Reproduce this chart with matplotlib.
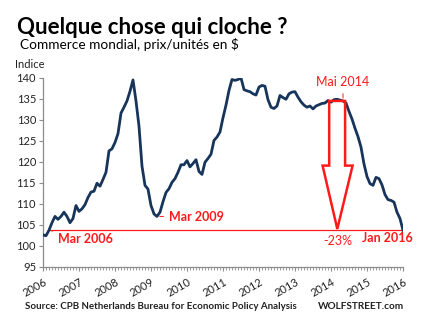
import matplotlib.pyplot as plt
from matplotlib.patches import Polygon
from matplotlib.ticker import MultipleLocator

plt.rcParams['font.family'] = ['Lato', 'DejaVu Sans']

# monthly index, Jan 2006 .. Jan 2016
start_year = 2006
index_values = [
    102.6, 102.4, 103.7, 105.5, 107.0, 106.3, 107.0, 108.0, 107.0, 105.5, 106.5, 109.6,
    108.2, 108.8, 109.8, 111.5, 112.8, 113.0, 114.9, 114.2, 115.8, 117.5, 122.6, 123.1,
    124.6, 126.7, 131.6, 133.0, 134.5, 136.8, 139.5, 134.5, 128.5, 119.0, 114.4, 113.5,
    109.6, 107.6, 107.0, 108.0, 110.5, 112.7, 113.6, 115.1, 116.0, 117.5, 119.3, 119.3,
    120.3, 118.8, 119.6, 120.5, 117.7, 117.0, 119.9, 120.8, 121.8, 125.1, 125.9, 127.1,
    130.5, 133.5, 137.0, 139.6, 139.4, 139.6, 140.0, 137.2, 136.9, 136.7, 136.2, 135.9,
    137.8, 138.2, 138.0, 134.8, 133.0, 132.7, 133.3, 135.8, 135.3, 134.9, 136.2, 136.6,
    136.7, 135.4, 134.3, 133.5, 133.0, 133.3, 132.6, 133.3, 133.6, 133.9, 134.0, 134.6,
    134.2, 134.8, 134.9, 134.7, 134.5, 134.0, 132.0, 130.2, 128.0, 126.0, 123.5, 119.5,
    116.5, 114.8, 114.4, 116.3, 116.0, 114.5, 112.2, 111.0, 110.8, 110.4, 108.0, 106.5,
    103.7,
]
year_ticks = list(range(2006, 2017))
y_ticks = [95, 100, 105, 110, 115, 120, 125, 130, 135, 140]

# annotated months (index into index_values)
mar_2006 = 2
mar_2009 = 38
mai_2014 = 100
jan_2016 = 120

red = '#FF1A1A'
navy = '#17355A'

x = [start_year + i / 12 for i in range(len(index_values))]


def xm(i):
    return start_year + i / 12


fig = plt.figure(figsize=(4.36, 3.23), dpi=100)
ax = fig.add_axes([0.0986, 0.174, 0.8257, 0.585])

ax.plot(x, index_values, color=navy, lw=2.0, solid_joinstyle='round', zorder=3)

# reference level
base = index_values[mar_2006]
ax.plot([xm(mar_2006), xm(jan_2016)], [base, base], color=red, lw=0.9, zorder=2)

# hollow down arrow from the May 2014 peak
peak = index_values[mai_2014]
arrow = Polygon([
    (xm(95.4), peak), (xm(100.7), peak), (xm(100.7), 119.1),
    (xm(103.2), 119.1), (xm(98.1), 104.0), (xm(93.2), 119.1),
    (xm(95.4), 119.1),
], closed=True, facecolor='none', edgecolor=red, lw=1.8, zorder=4)
ax.add_patch(arrow)

ax.annotate('Mar 2006', xy=(xm(mar_2006), base), xytext=(xm(5), 101.6),
            color=red, fontsize=9, fontweight='bold', va='center',
            arrowprops=dict(arrowstyle='-', color=red, lw=0.7))
ax.annotate('Mar 2009', xy=(xm(mar_2009), index_values[mar_2009]),
            xytext=(xm(42), 106.9), color=red, fontsize=9, fontweight='bold',
            va='center', arrowprops=dict(arrowstyle='-', color=red, lw=0.7))
ax.annotate('Mai 2014', xy=(xm(mai_2014), peak), xytext=(xm(mai_2014), 139.0),
            color=red, fontsize=9, ha='center', va='center',
            arrowprops=dict(arrowstyle='-', color=red, lw=0.7))
ax.text(xm(98.1), 101.2, '-23%', color=red, fontsize=9, ha='center', va='center')
ax.text(xm(106.5), 101.9, 'Jan 2016', color=red, fontsize=9, fontweight='bold',
        va='center')

ax.set_xlim(start_year, start_year + 10)
ax.set_ylim(95, 140)
ax.set_xticks(year_ticks)
ax.set_xticklabels([str(y) for y in year_ticks], rotation=30, ha='right',
                   va='top', rotation_mode='anchor')
ax.xaxis.set_minor_locator(MultipleLocator(1 / 12))
ax.set_yticks(y_ticks)

for side in ['top', 'right']:
    ax.spines[side].set_visible(False)
for side in ['left', 'bottom']:
    ax.spines[side].set_color('#8C8C8C')
    ax.spines[side].set_linewidth(0.9)
ax.tick_params(axis='both', which='major', length=3, color='#8C8C8C',
               labelsize=8, labelcolor='#222222', pad=2)
ax.tick_params(axis='x', which='minor', length=2, color='#8C8C8C')
ax.tick_params(axis='x', which='major', pad=4)

fig.text(0.04, 0.915, 'Quelque chose qui cloche ?', fontsize=16,
         fontweight='bold', color='black', va='center')
fig.text(0.047, 0.862, 'Commerce mondial, prix/unités en $', fontsize=9.8,
         color='black', va='center')
fig.text(0.035, 0.8, 'Indice', fontsize=8, color='#222222', va='center')
fig.text(0.058, 0.052, 'Source: CPB Netherlands Bureau for Economic Policy Analysis',
         fontsize=7.0, fontweight='bold', color='#222222', va='center')
fig.text(0.927, 0.052, 'WOLFSTREET.com', fontsize=7.2, fontweight='bold',
         color='#222222', va='center', ha='right')

fig.savefig('out.png', dpi=100)
